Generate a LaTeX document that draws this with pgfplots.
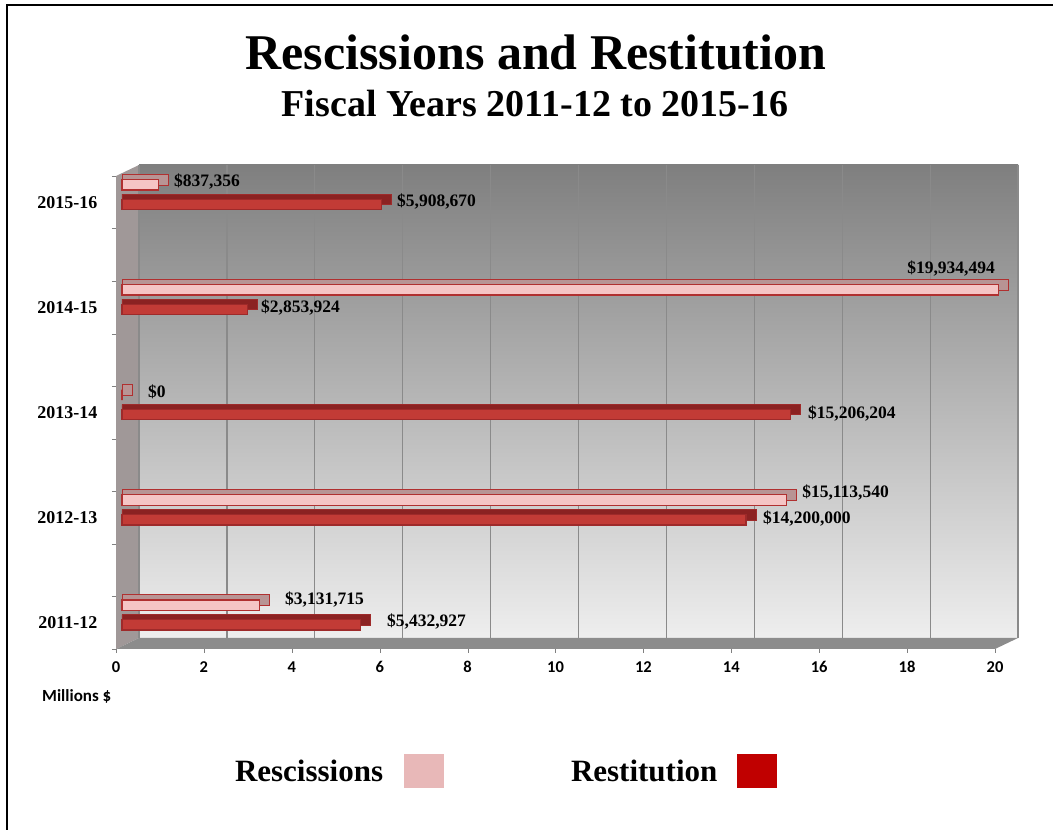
\documentclass[border=0pt]{standalone}
\usepackage{pgfplots}
\pgfplotsset{compat=1.18}
\usepackage{pgfplotstable}
\usepackage{fontspec}
\setmainfont{Liberation Serif}
\newfontfamily\calibri{Carlito}
\definecolor{leftwall}{HTML}{A09898}
\definecolor{floorc}{HTML}{8C8C8C}
\definecolor{walltop}{HTML}{7F7F7F}
\definecolor{wallbot}{HTML}{EEEEEE}
\definecolor{gridc}{HTML}{8A8A8A}
\definecolor{rescfront}{HTML}{F5C5C5}
\definecolor{rescdraw}{HTML}{B03030}
\definecolor{resctop}{HTML}{B89494}
\definecolor{restfront}{HTML}{C23B36}
\definecolor{restdraw}{HTML}{9E2A2A}
\definecolor{resttop}{HTML}{8B2222}
\definecolor{legpink}{HTML}{E8B8B8}
\definecolor{legred}{HTML}{C00000}

% Rescissions (millions $), y = category index + offset
\pgfplotstableread{
y v
0.167 3.131715
1.167 15.11354
2.167 0
3.167 19.934494
4.167 0.837356
}\resc
% Restitution (millions $)
\pgfplotstableread{
y v
-0.02 5.432927
0.98 14.2
1.98 15.206204
2.98 2.853924
3.98 5.90867
}\rest
\pgfplotstableread{
x y label
1.320 4.193 \$837,356
6.394 4.003 \$5,908,670
18.00 3.366 \$19,934,494
3.299 2.995 \$2,853,924
0.728 2.195 \$0
15.745 1.995 \$15,206,204
15.61 1.234 \$15,113,540
14.72 0.996 \$14,200,000
3.845 0.216 \$3,131,715
6.166 0.016 \$5,432,927
}\labels

\begin{document}
\begin{tikzpicture}
\useasboundingbox (0,0) rectangle (1053pt,830pt);
\draw[line width=2.5pt] (7pt,0pt) -- (7pt,825pt) -- (1053pt,825pt);
\node[anchor=base,font=\fontsize{50}{56}\selectfont\bfseries,inner sep=0pt] at (536pt,760pt) {Rescissions and Restitution};
\node[anchor=base,font=\fontsize{38}{43}\selectfont\bfseries,inner sep=0pt] at (535pt,713pt) {Fiscal Years 2011-12 to 2015-16};
% chart walls (front box 116..995 x 181..654, back box shifted by 23,11)
\shade[top color=walltop, bottom color=wallbot] (139pt,192pt) rectangle (1018pt,665pt);
\fill[leftwall] (116pt,181pt) -- (116pt,654pt) -- (139pt,665pt) -- (139pt,192pt) -- cycle;
\fill[floorc] (116pt,181pt) -- (995pt,181pt) -- (1018pt,192pt) -- (139pt,192pt) -- cycle;
\begin{axis}[
  at={(116pt,181pt)}, anchor=south west,
  scale only axis, width=879pt, height=473pt,
  xmin=0, xmax=20, ymin=-0.25, ymax=4.25,
  xtick={0,2,...,20},
  ytick={0,1,2,3,4},
  yticklabels={2011-12,2012-13,2013-14,2014-15,2015-16},
  minor ytick={-0.25,0.25,...,4.25},
  tick align=outside, tick pos=left,
  major tick length=4pt, minor tick length=4pt,
  major y tick style={draw=none},
  minor y tick style={draw=gray},
  major x tick style={draw=gray},
  axis line style={draw=none},
  xmajorgrids,
  major x grid style={draw=gridc, line width=1.2pt, xshift=23pt, yshift=11pt},
  /pgf/number format/assume math mode=true,
  xticklabel style={font=\calibri\bfseries\fontsize{16.5}{19}\selectfont, yshift=-5pt},
  yticklabel style={font=\fontsize{18}{21}\selectfont\bfseries, xshift=-11pt},
  xlabel={Millions \$},
  xlabel style={at={(axis description cs:-0.0842,-0.0994)}, anchor=west, inner sep=0pt, font=\calibri\bfseries\fontsize{17}{20}\selectfont},
  clip=false,
  legend plot pos=right,
  legend columns=2,
  legend style={at={(axis description cs:0.1354,-0.258)}, anchor=west, draw=none, fill=none,
    inner sep=0pt, outer sep=0pt, nodes={inner sep=0pt}, column sep=0pt, row sep=0pt,
    font=\fontsize{31}{36}\selectfont\bfseries},
]
% top/side faces (depth)
\addplot[xbar, bar width=0.1, bar shift=0pt, fill=resctop, draw=rescdraw, line width=0.8pt, xshift=6pt, forget plot]
  table[x expr=\thisrow{v}+0.2275, y expr=\thisrow{y}+0.048] {\resc};
\addplot[xbar, bar width=0.1, bar shift=0pt, fill=resttop, draw=restdraw, line width=0.8pt, xshift=6pt, forget plot]
  table[x expr=\thisrow{v}+0.2275, y expr=\thisrow{y}+0.048] {\rest};
% front faces
\addplot[xbar, bar width=0.1, bar shift=0pt, fill=rescfront, draw=rescdraw, line width=1.2pt, xshift=6pt, forget plot]
  table[x=v, y=y] {\resc};
\addplot[xbar, bar width=0.1, bar shift=0pt, fill=restfront, draw=restdraw, line width=1.2pt, xshift=6pt, forget plot]
  table[x=v, y=y] {\rest};
% value labels
\addplot[draw=none, mark=none, forget plot, nodes near coords, point meta=explicit symbolic,
  nodes near coords align=horizontal,
  nodes near coords style={anchor=west, inner sep=0pt, font=\fontsize{17.5}{20}\selectfont\bfseries, text=black}]
  table[x=x, y=y, meta=label] {\labels};

\addlegendimage{legend image code/.code={\fill[legpink,draw=none] (0pt,-17pt) rectangle (40pt,17pt); \path[draw=none,fill=none] (0pt,0pt) rectangle (167pt,0.1pt);}}
\addlegendentry[text width=169pt, align=left]{Rescissions}
\addlegendimage{legend image code/.code={\fill[legred,draw=none] (0pt,-17pt) rectangle (40pt,17pt);}}
\addlegendentry[text width=166pt, align=left]{Restitution}
\end{axis}
\end{tikzpicture}
\end{document}
